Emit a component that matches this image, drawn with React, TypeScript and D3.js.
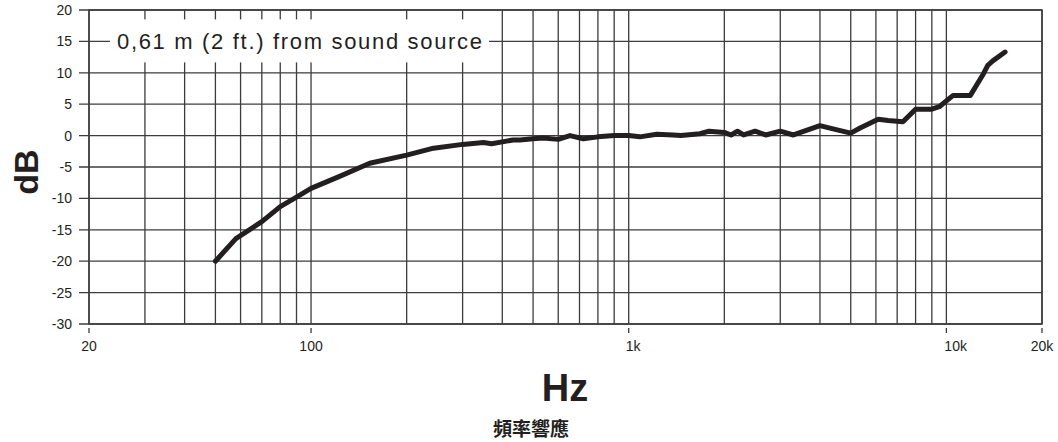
import React from 'react';
import * as d3 from 'd3';

const freqs = [
  50, 58, 70, 80, 90, 100, 123, 153, 200, 243, 300, 349, 370, 400, 432, 455,
  500, 538, 600, 653, 720, 800, 900, 1000, 1085, 1225, 1380, 1460, 1676, 1790,
  2000, 2100, 2200, 2300, 2500, 2700, 3000, 3300, 4000, 4300, 5000, 5350, 6100,
  6560, 7300, 8000, 9000, 9500, 10500, 11900, 13100, 13500, 14000, 15300,
];
const levels = [
  -20, -16.4, -13.7, -11.3, -9.8, -8.4, -6.5, -4.4, -3.1, -2.0, -1.4, -1.1,
  -1.3, -1.0, -0.7, -0.7, -0.5, -0.4, -0.6, 0.0, -0.5, -0.2, 0.0, 0.0, -0.2,
  0.2, 0.1, 0.0, 0.3, 0.7, 0.5, 0.1, 0.7, 0.1, 0.7, 0.1, 0.7, 0.1, 1.6, 1.2,
  0.4, 1.2, 2.6, 2.4, 2.2, 4.2, 4.2, 4.6, 6.4, 6.4, 9.9, 11.2, 11.9, 13.3,
];
const dbTicks = [20, 15, 10, 5, 0, -5, -10, -15, -20, -25, -30];
const hzLabels = [
  { f: 20, text: '20', dx: 0, anchor: 'middle' },
  { f: 100, text: '100', dx: 0, anchor: 'middle' },
  { f: 1000, text: '1k', dx: -3, anchor: 'start' },
  { f: 10000, text: '10k', dx: -2, anchor: 'start' },
  { f: 20000, text: '20k', dx: 0, anchor: 'middle' },
];
const caption = '0,61 m (2 ft.) from sound source';

const width = 1058;
const height = 442;
const margin = { top: 10, right: 16, bottom: 118, left: 89 };
const font = '"Liberation Sans", Arial, Helvetica, sans-serif';
const ink = '#231f20';
const gridColor = '#3c3c3c';

export default function App() {
  const x = d3
    .scaleLog()
    .domain([20, 20000])
    .range([margin.left, width - margin.right]);
  const y = d3
    .scaleLinear()
    .domain([-30, 20])
    .range([height - margin.bottom, margin.top]);

  const points: [number, number][] = freqs.map((f, i) => [f, levels[i]]);
  const line = d3
    .line<[number, number]>()
    .x((d) => x(d[0]))
    .y((d) => y(d[1]));

  const x0 = x(20);
  const x1 = x(20000);
  const yTop = y(20);
  const yBot = y(-30);

  // white box behind the caption
  const capY = y(15);
  const capLeft = x0 + 21;
  const capWidth = 365;

  return (
    <svg
      width={width}
      height={height}
      style={{ position: 'absolute', left: 0, top: 0, background: '#fff' }}
      fontFamily={font}
    >
      <g stroke={gridColor} strokeWidth={1.3}>
        {x.ticks().map((f) => (
          <line key={'v' + f} x1={x(f)} x2={x(f)} y1={yTop} y2={yBot} />
        ))}
        {dbTicks.map((d) => (
          <line key={'h' + d} x1={x0 - 10} x2={x1} y1={y(d)} y2={y(d)} />
        ))}
        {hzLabels.map((t) => (
          <line
            key={'t' + t.f}
            x1={x(t.f)}
            x2={x(t.f)}
            y1={yBot + 4}
            y2={yBot + 9}
          />
        ))}
      </g>
      <rect
        x={x0}
        y={yTop}
        width={x1 - x0}
        height={yBot - yTop}
        fill="none"
        stroke={gridColor}
        strokeWidth={1.5}
      />

      <rect x={capLeft} y={capY - 22} width={capWidth + 14} height={43} fill="#fff" />
      <text
        x={capLeft + 7}
        y={capY + 7.5}
        fontSize={22}
        fill={ink}
        textLength={capWidth}
        lengthAdjust="spacing"
      >
        {caption}
      </text>

      <path
        d={line(points) || ''}
        fill="none"
        stroke={ink}
        strokeWidth={5}
        strokeLinejoin="round"
        strokeLinecap="round"
      />

      <g fontSize={14} fill={ink} textAnchor="end">
        {dbTicks.map((d) => (
          <text key={'l' + d} x={x0 - 17} y={y(d) + 5}>
            {d}
          </text>
        ))}
      </g>
      <g fontSize={14} fill={ink}>
        {hzLabels.map((t) => (
          <text
            key={'x' + t.f}
            x={x(t.f) + t.dx}
            y={yBot + 27}
            textAnchor={t.anchor}
          >
            {t.text}
          </text>
        ))}
      </g>

      <text
        transform={`translate(38,${(yTop + yBot) / 2 + 5}) rotate(-90)`}
        textAnchor="middle"
        fontSize={34}
        fontWeight="bold"
        fill={ink}
      >
        dB
      </text>
      <text
        x={565}
        y={401}
        textAnchor="middle"
        fontSize={38}
        fontWeight="bold"
        fill={ink}
      >
        Hz
      </text>
      <text
        x={531}
        y={436}
        textAnchor="middle"
        fontSize={19}
        fontWeight="bold"
        fill={ink}
        fontFamily='"Noto Sans CJK TC", "Noto Sans CJK SC", sans-serif'
      >
        頻率響應
      </text>
    </svg>
  );
}
